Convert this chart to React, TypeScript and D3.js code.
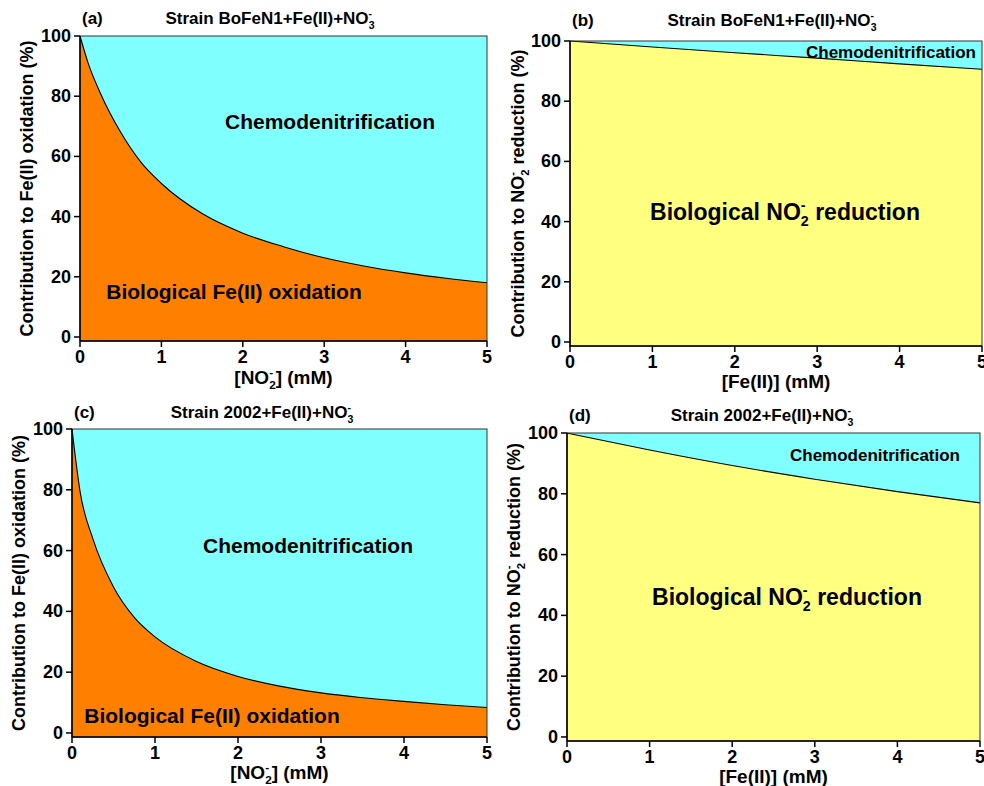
import React from "react";
import * as d3 from "d3";

// ---- data ----
const xTicks = [0, 1, 2, 3, 4, 5];
const yTicks = [0, 20, 40, 60, 80, 100];

const xA = [0, 0.1, 0.25, 0.5, 0.75, 1, 1.5, 2, 2.5, 3, 3.5, 4, 4.5, 5];
const bioA = [100, 91, 81, 68, 58, 51, 41, 34.5, 30, 26.3, 23.5, 21.3, 19.5, 18];

const xB = [0, 1, 2, 3, 4, 5];
const bioB = [100, 98, 96.1, 94.3, 92.4, 90.6];

const xC = [0, 0.1, 0.25, 0.5, 0.75, 1, 1.5, 2, 2.5, 3, 3.5, 4, 4.5, 5];
const bioC = [100, 79, 64, 48, 38, 31.6, 23.5, 18.6, 15.4, 13.2, 11.6, 10.4, 9.3, 8.4];

const xD = [0, 1, 2, 3, 4, 5];
const bioD = [100, 94.4, 89.3, 84.8, 80.7, 77];

const ORANGE = "#FF8000";
const CYAN = "#80FFFF";
const YELLOW = "#FFFF80";
const FONT = "'Liberation Sans', Arial, sans-serif";

type Lbl = { pre: string; sup?: string; sub?: string; post?: string };

function Rich({ l, size, x, y, anchor = "middle", rotate = false }: { l: Lbl; size: number; x: number; y: number; anchor?: string; rotate?: boolean }) {
  const s = size * 0.62;
  const supW = (l.sup === "-" ? 0.333 : 0.556) * s;
  const supUp = size * 0.42;
  const subDown = size * 0.28;
  return (
    <text x={x} y={y} textAnchor={anchor} fontSize={size} fontWeight="bold" fontFamily={FONT}
      transform={rotate ? `rotate(-90 ${x} ${y})` : undefined}>
      <tspan>{l.pre}</tspan>
      {l.sup !== undefined && (
        <>
          <tspan fontSize={s} dy={-supUp}>{l.sup}</tspan>
          <tspan fontSize={s} dx={-supW} dy={supUp + subDown}>{l.sub}</tspan>
          <tspan dy={-subDown}>{l.post}</tspan>
        </>
      )}
    </text>
  );
}

type PanelProps = {
  x0: number; x1: number; top: number; bottom: number;
  xs: number[]; bio: number[]; lowColor: string;
  tag: string; title: Lbl; titleX: number; titleY: number;
  yTitle: Lbl; yTitleX: number;
  xTitle: Lbl; xTitleY: number;
  chemoLabel: { x: number; y: number; size: number };
  bioLabel: { l: Lbl; x: number; y: number; size: number };
};

function Panel(p: PanelProps) {
  const xs = d3.scaleLinear().domain([0, 5]).range([p.x0, p.x1]);
  const ys = d3.scaleLinear().domain([-1.33, 100]).range([p.bottom, p.top]);
  const pts = p.xs.map((x, i) => [x, p.bio[i]] as [number, number]);
  const area = d3.area<[number, number]>().x((d) => xs(d[0])).y0(ys(-1.33)).y1((d) => ys(d[1])).curve(d3.curveMonotoneX);
  const line = d3.line<[number, number]>().x((d) => xs(d[0])).y((d) => ys(d[1])).curve(d3.curveMonotoneX);
  const cx = (p.x0 + p.x1) / 2;
  const cy = (p.top + p.bottom) / 2;
  return (
    <g>
      <rect x={p.x0} y={p.top} width={p.x1 - p.x0} height={p.bottom - p.top} fill={CYAN} />
      <path d={area(pts) || ""} fill={p.lowColor} />
      <path d={line(pts) || ""} fill="none" stroke="#000" strokeWidth={1.1} />
      <rect x={p.x0} y={p.top} width={p.x1 - p.x0} height={p.bottom - p.top} fill="none" stroke="#333" strokeWidth={1} />
      <line x1={p.x0} x2={p.x0} y1={p.top} y2={p.bottom} stroke="#000" strokeWidth={1.5} />
      <line x1={p.x0} x2={p.x1} y1={p.bottom} y2={p.bottom} stroke="#000" strokeWidth={1.5} />
      {xTicks.map((t) => (
        <g key={"x" + t}>
          <line x1={xs(t)} x2={xs(t)} y1={p.bottom} y2={p.bottom + 6} stroke="#000" strokeWidth={1.5} />
          <text x={xs(t)} y={p.bottom + 22} textAnchor="middle" fontSize={18} fontWeight="bold" fontFamily={FONT}>{t}</text>
        </g>
      ))}
      {yTicks.map((t) => (
        <g key={"y" + t}>
          <line x1={p.x0 - 6} x2={p.x0} y1={ys(t)} y2={ys(t)} stroke="#000" strokeWidth={1.5} />
          <text x={p.x0 - 9} y={ys(t) + 6} textAnchor="end" fontSize={18} fontWeight="bold" fontFamily={FONT}>{t}</text>
        </g>
      ))}
      <text x={p.x0 + 2} y={p.titleY} fontSize={17} fontWeight="bold" fontFamily={FONT}>{p.tag}</text>
      <Rich l={p.title} size={17} x={p.titleX} y={p.titleY} />
      <Rich l={p.yTitle} size={18} x={p.yTitleX} y={cy} rotate />
      <Rich l={p.xTitle} size={19} x={cx} y={p.xTitleY} />
      <text x={p.chemoLabel.x} y={p.chemoLabel.y} textAnchor="middle" fontSize={p.chemoLabel.size} fontWeight="bold" fontFamily={FONT}>Chemodenitrification</text>
      <Rich l={p.bioLabel.l} size={p.bioLabel.size} x={p.bioLabel.x} y={p.bioLabel.y} />
    </g>
  );
}

const titleBo: Lbl = { pre: "Strain BoFeN1+Fe(II)+NO", sup: "-", sub: "3", post: "" };
const title2002: Lbl = { pre: "Strain 2002+Fe(II)+NO", sup: "-", sub: "3", post: "" };
const yFe: Lbl = { pre: "Contribution to Fe(II) oxidation (%)" };
const yNO: Lbl = { pre: "Contribution to NO", sup: "-", sub: "2", post: " reduction (%)" };
const xNO: Lbl = { pre: "[NO", sup: "-", sub: "2", post: "] (mM)" };
const xFe: Lbl = { pre: "[Fe(II)] (mM)" };
const bioFe: Lbl = { pre: "Biological Fe(II) oxidation" };
const bioNO: Lbl = { pre: "Biological NO", sup: "-", sub: "2", post: " reduction" };

export default function App() {
  return (
    <svg width={984} height={786} style={{ position: "absolute", left: 0, top: 0, background: "#fff" }}>
      <Panel x0={80} x1={487} top={36} bottom={341} xs={xA} bio={bioA} lowColor={ORANGE}
        tag="(a)" title={titleBo} titleX={270} titleY={24}
        yTitle={yFe} yTitleX={33} xTitle={xNO} xTitleY={384}
        chemoLabel={{ x: 330, y: 129, size: 21 }}
        bioLabel={{ l: bioFe, x: 234, y: 299, size: 21 }} />
      <Panel x0={570} x1={982} top={41} bottom={346} xs={xB} bio={bioB} lowColor={YELLOW}
        tag="(b)" title={titleBo} titleX={772} titleY={26}
        yTitle={yNO} yTitleX={524} xTitle={xFe} xTitleY={388}
        chemoLabel={{ x: 891, y: 58, size: 17 }}
        bioLabel={{ l: bioNO, x: 785, y: 220, size: 23 }} />
      <Panel x0={72} x1={487} top={429} bottom={737} xs={xC} bio={bioC} lowColor={ORANGE}
        tag="(c)" title={title2002} titleX={262} titleY={418}
        yTitle={yFe} yTitleX={25} xTitle={xNO} xTitleY={779}
        chemoLabel={{ x: 308, y: 553, size: 21 }}
        bioLabel={{ l: bioFe, x: 212, y: 723, size: 21 }} />
      <Panel x0={567} x1={980} top={433} bottom={741} xs={xD} bio={bioD} lowColor={YELLOW}
        tag="(d)" title={title2002} titleX={762} titleY={421}
        yTitle={yNO} yTitleX={520} xTitle={xFe} xTitleY={783}
        chemoLabel={{ x: 875, y: 461, size: 17 }}
        bioLabel={{ l: bioNO, x: 787, y: 605, size: 23 }} />
    </svg>
  );
}
